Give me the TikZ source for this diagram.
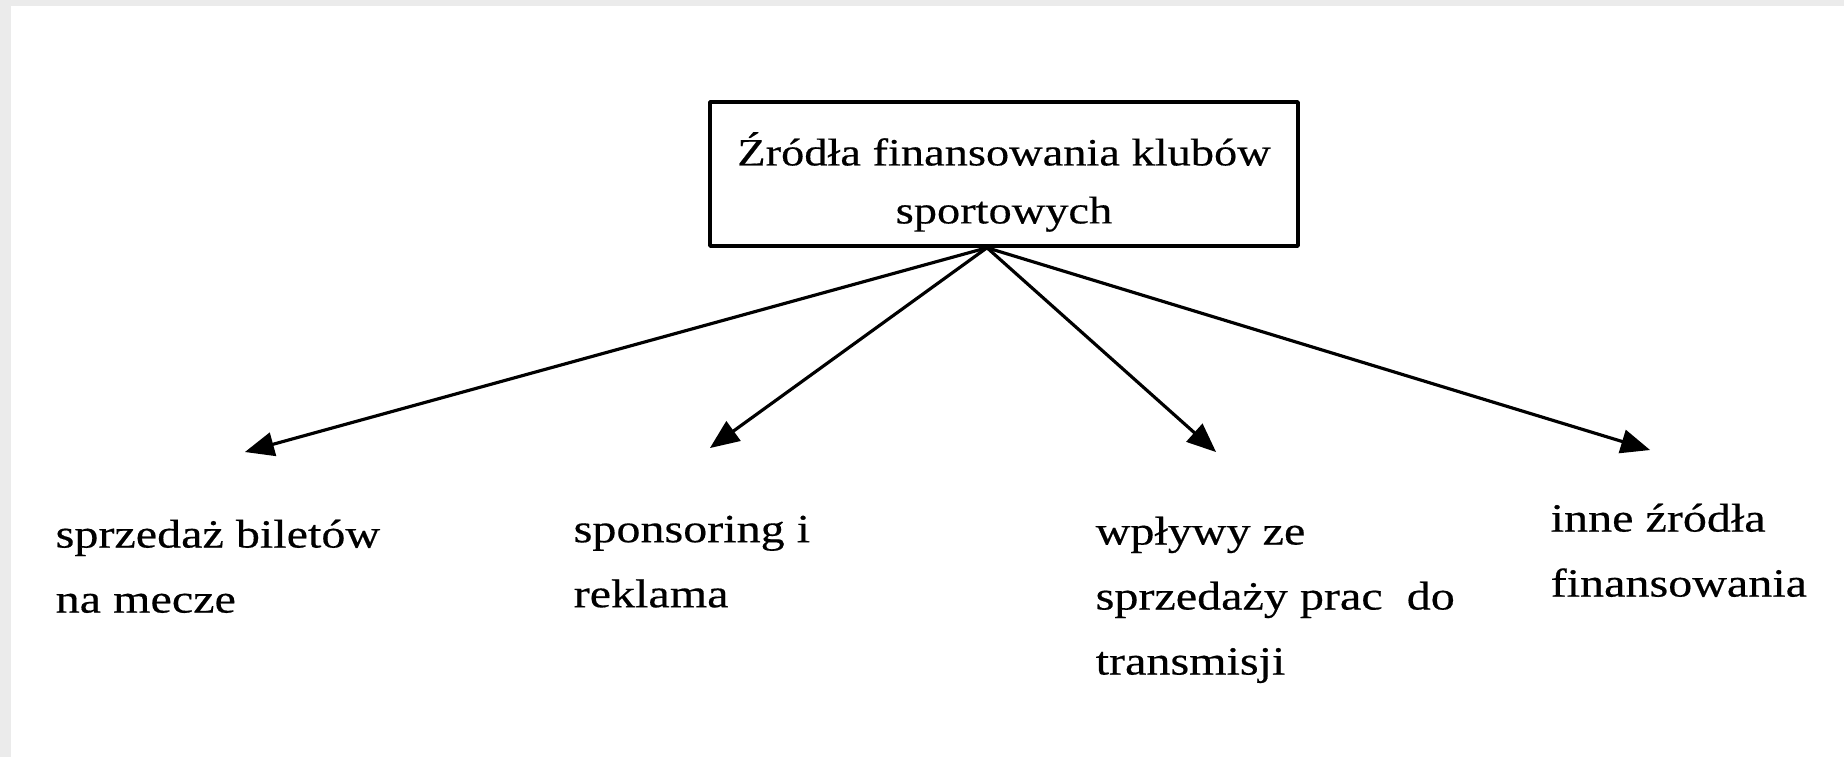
\documentclass[tikz,border=0pt]{standalone}
\usepackage{fontspec}
\setmainfont[FakeStretch=1.2,FakeBold=0.4]{Liberation Serif}
\usepackage{tikz}
\usetikzlibrary{arrows}
\definecolor{ramka}{RGB}{235,235,235}
\tikzset{
  zrodlo/.style={draw,line width=1pt,minimum width=5.88cm,minimum height=1.44cm,align=center,font=\fontsize{11}{16.5}\selectfont},
  opis/.style={anchor=north west,inner sep=0pt,align=left,font=\fontsize{11.4}{18.5}\selectfont},
  strzalka/.style={line width=0.9pt,->}
}
\begin{document}
\begin{tikzpicture}[line cap=round,line join=round,>=triangle 45,x=1cm,y=1cm]
        \useasboundingbox (0,0) rectangle (18.44,-7.57);
        \fill [ramka] (0,0) rectangle (18.44,-0.06);
        \fill [ramka] (0,0) rectangle (0.11,-7.57);
        \node [zrodlo] (glowny) at (10.04,-1.74) {\rule{0pt}{14pt}Źródła finansowania klubów\\sportowych};
        \node [opis] (bilety) at (0.55,-5.19) {sprzedaż biletów\\na mecze};
        \node [opis] (sponsoring) at (5.73,-5.15) {sponsoring i\\reklama};
        \node [opis] (transmisje) at (10.95,-5.16) {wpływy ze\\sprzedaży prac\ \ do\\transmisji};
        \node [opis] (inne) at (15.50,-5.03) {inne źródła\\finansowania};
        \coordinate (wezel) at ([xshift=-0.17cm]glowny.south);
        \coordinate (g1) at (2.45,-4.52);
        \coordinate (g2) at (7.10,-4.48);
        \coordinate (g3) at (12.16,-4.52);
        \coordinate (g4) at (16.50,-4.50);
        \draw [strzalka] (wezel)-- (g1);
        \draw [strzalka] (wezel)-- (g2);
        \draw [strzalka] (wezel)-- (g3);
        \draw [strzalka] (wezel)-- (g4);
    \end{tikzpicture}
\end{document}
